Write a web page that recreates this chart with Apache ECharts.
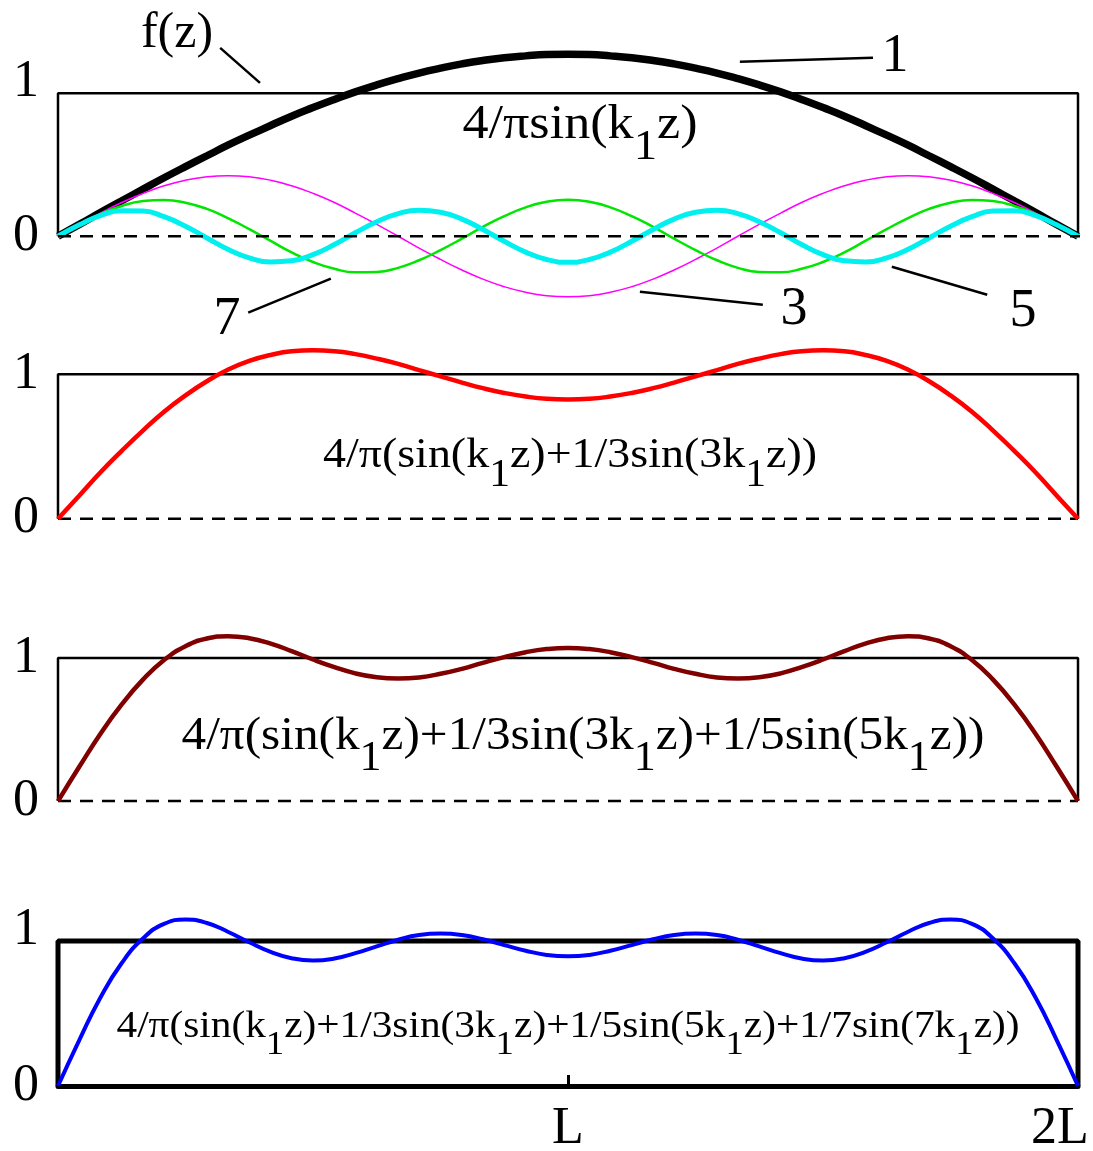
<!DOCTYPE html>
<html>
<head>
    <meta charset="utf-8">
    <title>Fourier series of a square wave</title>
    <script src="https://cdn.jsdelivr.net/npm/echarts@6/dist/echarts.min.js"></script>
    <style>
        html, body { margin: 0; padding: 0; background: #fff; }
        #chart1 { width: 1093px; height: 1151px; }
    </style>
</head>
<body>
<div id="chart1"></div>
<script type="text/javascript">
    // z positions in units of L (0 .. 2L)
    var zPos = [0, 0.042, 0.083, 0.125, 0.167, 0.208, 0.25, 0.292, 0.333, 0.375, 0.417, 0.458, 0.5,
        0.542, 0.583, 0.625, 0.667, 0.708, 0.75, 0.792, 0.833, 0.875, 0.917, 0.958, 1,
        1.042, 1.083, 1.125, 1.167, 1.208, 1.25, 1.292, 1.333, 1.375, 1.417, 1.458, 1.5,
        1.542, 1.583, 1.625, 1.667, 1.708, 1.75, 1.792, 1.833, 1.875, 1.917, 1.958, 2];

    // panel 1: single harmonics
    var harm1 = [0, 0.083, 0.166, 0.248, 0.330, 0.409, 0.487, 0.563, 0.637, 0.707, 0.775, 0.840, 0.900, 0.957, 1.010, 1.059, 1.103, 1.142, 1.176, 1.206, 1.230, 1.249, 1.262, 1.271, 1.273,
        1.271, 1.262, 1.249, 1.230, 1.206, 1.176, 1.142, 1.103, 1.059, 1.010, 0.957, 0.900, 0.840, 0.775, 0.707, 0.637, 0.563, 0.487, 0.409, 0.330, 0.248, 0.166, 0.083, 0];
    var harm3 = [0, 0.083, 0.162, 0.236, 0.300, 0.353, 0.392, 0.416, 0.424, 0.416, 0.392, 0.353, 0.300, 0.236, 0.162, 0.083, 0, -0.083, -0.162, -0.236, -0.300, -0.353, -0.392, -0.416, -0.424,
        -0.416, -0.392, -0.353, -0.300, -0.236, -0.162, -0.083, 0, 0.083, 0.162, 0.236, 0.300, 0.353, 0.392, 0.416, 0.424, 0.416, 0.392, 0.353, 0.300, 0.236, 0.162, 0.083, 0];
    var harm5 = [0, 0.082, 0.155, 0.212, 0.246, 0.254, 0.235, 0.191, 0.127, 0.050, -0.033, -0.113, -0.180, -0.228, -0.252, -0.250, -0.221, -0.168, -0.097, -0.017, 0.066, 0.141, 0.202, 0.241, 0.255,
        0.241, 0.202, 0.141, 0.066, -0.017, -0.097, -0.168, -0.221, -0.250, -0.252, -0.228, -0.180, -0.113, -0.033, 0.050, 0.127, 0.191, 0.235, 0.254, 0.246, 0.212, 0.155, 0.082, 0];
    var harm7 = [0, 0.080, 0.144, 0.178, 0.176, 0.137, 0.070, -0.012, -0.091, -0.151, -0.180, -0.172, -0.129, -0.058, 0.024, 0.101, 0.158, 0.182, 0.168, 0.120, 0.047, -0.035, -0.111, -0.163, -0.182,
        -0.163, -0.111, -0.035, 0.047, 0.120, 0.168, 0.182, 0.158, 0.101, 0.024, -0.058, -0.129, -0.172, -0.180, -0.151, -0.091, -0.012, 0.070, 0.137, 0.176, 0.178, 0.144, 0.080, 0];

    // panels 2-4: partial sums
    var sum13 = [0, 0.161, 0.320, 0.470, 0.612, 0.741, 0.854, 0.952, 1.031, 1.093, 1.134, 1.159, 1.166, 1.160, 1.140, 1.109, 1.072, 1.029, 0.986, 0.943, 0.904, 0.871, 0.846, 0.830, 0.825,
        0.830, 0.846, 0.871, 0.904, 0.943, 0.986, 1.029, 1.072, 1.109, 1.140, 1.160, 1.166, 1.159, 1.134, 1.093, 1.031, 0.952, 0.854, 0.741, 0.612, 0.470, 0.320, 0.161, 0];
    var sum135 = [0, 0.241, 0.469, 0.675, 0.850, 0.986, 1.082, 1.136, 1.152, 1.138, 1.100, 1.048, 0.989, 0.936, 0.892, 0.865, 0.856, 0.864, 0.889, 0.924, 0.966, 1.006, 1.040, 1.062, 1.070,
        1.062, 1.040, 1.006, 0.966, 0.924, 0.889, 0.864, 0.856, 0.865, 0.892, 0.936, 0.989, 1.048, 1.100, 1.138, 1.152, 1.136, 1.082, 0.986, 0.850, 0.675, 0.469, 0.241, 0];
    var sum1357 = [0, 0.318, 0.609, 0.848, 1.019, 1.118, 1.148, 1.124, 1.064, 0.991, 0.925, 0.881, 0.865, 0.879, 0.916, 0.963, 1.009, 1.041, 1.051, 1.041, 1.012, 0.972, 0.933, 0.904, 0.894,
        0.904, 0.933, 0.972, 1.012, 1.041, 1.051, 1.041, 1.009, 0.963, 0.916, 0.879, 0.865, 0.881, 0.925, 0.991, 1.064, 1.124, 1.148, 1.118, 1.019, 0.848, 0.609, 0.318, 0];

    // square wave f(z) and zero lines
    var squareWave = [[0, 0], [0, 1], [2, 1], [2, 0]];
    var zeroLine1 = [[0, 0], [2.02, 0]];
    var zeroLine = [[0, 0], [2, 0]];

    // leader lines of panel 1 (data coords)
    var leaders = [
        [[0.318, 1.318], [0.396, 1.073]],
        [[1.337, 1.220], [1.598, 1.248]],
        [[0.373, -0.535], [0.535, -0.297]],
        [[1.141, -0.388], [1.382, -0.479]],
        [[1.635, -0.213], [1.822, -0.409]]
    ];

    var yTickValues = [0, 1];
    var xTickLabels = ['L', '2L'];

    var SERIF = '"Liberation Serif", "Times New Roman", serif';
    var myChart1 = echarts.init(document.getElementById('chart1'));

    function pts(vals) {
        return vals.map(function (v, i) { return [zPos[i], v]; });
    }

    // width measuring for the formula captions
    var ctx = document.createElement('canvas').getContext('2d');
    function textW(str, size) {
        ctx.font = size + 'px ' + SERIF;
        return ctx.measureText(str).width;
    }

    // tokens: [text, isSub]
    function formula(tokens, F, cx, inkMid, width) {
        var subF = Math.round(F * 0.9);
        var str = '';
        var w = 0;
        tokens.forEach(function (t) {
            str += '{' + (t[1] ? 's' : 'm') + '|' + t[0] + '}';
            w += textW(t[0], t[1] ? subF : F);
        });
        return {
            type: 'text', x: cx, y: inkMid - F / 2, scaleX: width / w, silent: true, z: 10,
            style: {
                text: str, align: 'center', verticalAlign: 'top', fill: '#000',
                rich: {
                    m: {fontSize: F, fontFamily: SERIF, lineHeight: F, verticalAlign: 'top', fill: '#000'},
                    s: {fontSize: subF, fontFamily: SERIF, lineHeight: F, verticalAlign: 'top', fill: '#000',
                        padding: [Math.round(F * 0.52), 0, 0, 0]}
                }
            }
        };
    }

    function label(text, cx, cy, size) {
        return {
            type: 'text', x: cx, y: cy, silent: true, z: 10,
            style: {text: text, align: 'center', verticalAlign: 'middle', fill: '#000',
                fontSize: size, fontFamily: SERIF}
        };
    }

    var grids = [
        {left: 58, right: 15, top: 29, height: 293, outerBoundsMode: 'none'},
        {left: 58, right: 15, top: 331, height: 231, outerBoundsMode: 'none'},
        {left: 58, right: 15, top: 615, height: 229, outerBoundsMode: 'none'},
        {left: 58, right: 15, top: 897.5, height: 188.5, outerBoundsMode: 'none'}
    ];
    var yRanges = [[-0.6, 1.45], [-0.3, 1.3], [-0.3, 1.3], [0, 1.3]];
    var raiseOne = [true, false, false, true];

    var xAxes = grids.map(function (g, i) {
        return {gridIndex: i, type: 'value', min: 0, max: 2, show: false, splitLine: {show: false}};
    });
    xAxes[3] = {
        gridIndex: 3, type: 'value', min: 0, max: 2,
        axisLine: {lineStyle: {color: '#000', width: 5}},
        axisTick: {customValues: [1], inside: true, length: 11, lineStyle: {color: '#000', width: 3}},
        axisLabel: {
            customValues: [1, 2], margin: 17, fontSize: 52, fontFamily: SERIF, color: '#000',
            formatter: function (v) { return v === 1 ? xTickLabels[0] : '{r|' + xTickLabels[1] + '}'; },
            rich: {r: {fontSize: 52, fontFamily: SERIF, color: '#000', padding: [0, 36, 0, 0]}}
        },
        splitLine: {show: false}
    };

    var yAxes = grids.map(function (g, i) {
        return {
            gridIndex: i, type: 'value', min: yRanges[i][0], max: yRanges[i][1],
            axisLine: {show: false}, axisTick: {show: false}, splitLine: {show: false},
            axisLabel: {
                customValues: yTickValues, margin: 19, fontSize: 52, fontFamily: SERIF, color: '#000',
                formatter: function (v) {
                    var s = String(v);
                    return (v === 1 && raiseOne[i]) ? '{u|' + s + '}' : s;
                },
                rich: {u: {fontSize: 52, fontFamily: SERIF, color: '#000', padding: [0, 0, 22, 0]}}
            }
        };
    });

    function line(idx, data, color, width, extra) {
        var s = {
            type: 'line', xAxisIndex: idx, yAxisIndex: idx, data: data,
            showSymbol: false, symbol: 'none', clip: false, silent: true,
            lineStyle: {color: color, width: width}
        };
        if (extra) {
            for (var k in extra) s[k] = extra[k];
        }
        return s;
    }

    var dashed = {lineStyle: {color: '#000', width: 2.5, type: [13, 9]}};
    var smooth = {smooth: 0.5};

    var series = [
        // panel 1
        line(0, squareWave, '#000', 2.5),
        line(0, pts(harm1), '#000', 7.5, smooth),
        line(0, pts(harm3), '#ff00ff', 1.5, smooth),
        line(0, pts(harm5), '#00e600', 2.5, smooth),
        line(0, pts(harm7), '#00f0f0', 5, smooth),
        line(0, zeroLine1, '#000', 2.5, dashed),
        {
            type: 'lines', coordinateSystem: 'cartesian2d', xAxisIndex: 0, yAxisIndex: 0, silent: true,
            data: leaders.map(function (c) { return {coords: c}; }),
            lineStyle: {color: '#000', width: 2.5, opacity: 1}
        },
        // panel 2
        line(1, squareWave, '#000', 2.5),
        line(1, zeroLine, '#000', 2.5, dashed),
        line(1, pts(sum13), '#ff0000', 4.5, smooth),
        // panel 3
        line(2, squareWave, '#000', 2.5),
        line(2, zeroLine, '#000', 2.5, dashed),
        line(2, pts(sum135), '#800000', 4.5, smooth),
        // panel 4
        line(3, squareWave, '#000', 5),
        line(3, pts(sum1357), '#0000ff', 4, smooth)
    ];

    var graphics = [
        label('f(z)', 177, 34, 50),
        label('1', 895, 57, 54),
        label('7', 227, 320, 54),
        label('3', 794, 310, 54),
        label('5', 1023, 312, 54),
        formula([['4/πsin(k', 0], ['1', 1], ['z)', 0]], 48, 580, 125.5, 235),
        formula([['4/π(sin(k', 0], ['1', 1], ['z)+1/3sin(3k', 0], ['1', 1], ['z))', 0]], 43, 570, 455.5, 494),
        formula([['4/π(sin(k', 0], ['1', 1], ['z)+1/3sin(3k', 0], ['1', 1], ['z)+1/5sin(5k', 0], ['1', 1], ['z))', 0]], 47, 583, 737, 803),
        formula([['4/π(sin(k', 0], ['1', 1], ['z)+1/3sin(3k', 0], ['1', 1], ['z)+1/5sin(5k', 0], ['1', 1], ['z)+1/7sin(7k', 0], ['1', 1], ['z))', 0]], 38, 568, 1027, 903)
    ];

    myChart1.setOption({
        animation: false,
        backgroundColor: '#fff',
        grid: grids,
        xAxis: xAxes,
        yAxis: yAxes,
        series: series,
        graphic: graphics
    });
</script>
</body>
</html>
